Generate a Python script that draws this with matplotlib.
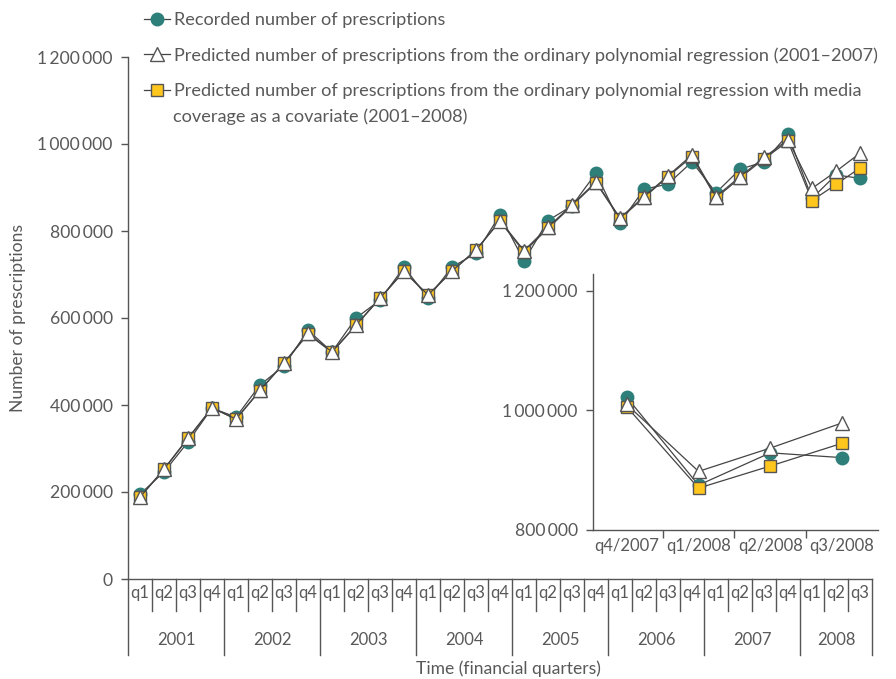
import matplotlib
matplotlib.use('Agg')
import matplotlib.pyplot as plt
from matplotlib.ticker import FuncFormatter
from matplotlib.transforms import blended_transform_factory
import numpy as np

# data (thousands of prescriptions), 2001 q1 .. 2008 q3
years = ['2001', '2002', '2003', '2004', '2005', '2006', '2007', '2008']
quarters = ['q1', 'q2', 'q3', 'q4'] * 7 + ['q1', 'q2', 'q3']
recorded = np.array([195, 246, 315, 393, 372, 446, 490, 572, 522, 600, 641, 717,
                     646, 717, 749, 837, 731, 824, 858, 933, 818, 896, 908, 959,
                     888, 942, 959, 1022, 875, 929, 921]) * 1000
ordinary = np.array([188, 253, 324, 393, 368, 434, 497, 565, 522, 584, 646, 708,
                     653, 708, 756, 824, 755, 809, 860, 913, 830, 879, 927, 975,
                     879, 925, 969, 1010, 898, 937, 979]) * 1000
media = np.array([188, 252, 323, 394, 367, 433, 496, 563, 521, 583, 645, 707,
                  652, 707, 757, 822, 752, 806, 858, 911, 828, 877, 925, 971,
                  876, 922, 966, 1006, 870, 907, 945]) * 1000
inset_labels = ['q4/2007', 'q1/2008', 'q2/2008', 'q3/2008']

labels = ['Recorded number of prescriptions',
          'Predicted number of prescriptions from the ordinary polynomial regression (2001\u20132007)',
          'Predicted number of prescriptions from the ordinary polynomial regression with media']

plt.rcParams['font.family'] = ['Lato', 'DejaVu Sans']
plt.rcParams['font.size'] = 12
txt = '#595959'
axc = '#555555'
linec = '#444444'
teal = '#2e7f7a'
yellow = '#ffc61e'
plt.rcParams['text.color'] = txt
plt.rcParams['xtick.color'] = axc
plt.rcParams['ytick.color'] = axc
plt.rcParams['xtick.labelcolor'] = txt
plt.rcParams['ytick.labelcolor'] = txt

fmt = FuncFormatter(lambda v, p: f'{v:,.0f}'.replace(',', '\u2009'))


def draw(a, xs, sl):
    l1, = a.plot(xs, recorded[sl], color=linec, lw=0.9, marker='o', ms=9,
                 mfc=teal, mec=teal, zorder=3)
    l3, = a.plot(xs, media[sl], color=linec, lw=0.9, marker='s', ms=8.5,
                 mfc=yellow, mec='#555555', mew=1, zorder=4)
    l2, = a.plot(xs, ordinary[sl], color=linec, lw=0.9, marker='^', ms=9.5,
                 mfc='white', mec='#555555', mew=1, zorder=5)
    return l1, l2, l3


def style(a):
    for s in ['top', 'right']:
        a.spines[s].set_visible(False)
    for s in ['left', 'bottom']:
        a.spines[s].set_color(axc)
        a.spines[s].set_linewidth(1)
    a.yaxis.set_major_formatter(fmt)
    a.tick_params(axis='y', direction='out', length=5, width=1, pad=6,
                  labelsize=12.6)


fig = plt.figure(figsize=(8.96, 6.79), dpi=100)
ax = fig.add_axes([128 / 896, 1 - 579 / 679, 744 / 896, 522 / 679])
x = np.arange(len(quarters))
handles = draw(ax, x, slice(None))
style(ax)
ax.set_xlim(-0.5, len(quarters) - 0.5)
ax.set_ylim(0, 1200000)
ax.set_yticks(np.arange(0, 1200001, 200000))
ax.set_xticks([])

# category axis: quarters and years below the axis
tr = blended_transform_factory(ax.transData, ax.transAxes)
for i, q in enumerate(quarters):
    ax.text(i, -0.026, q, transform=tr, ha='center', va='center')
for b in range(len(quarters) + 1):
    long = (b % 4 == 0) or b == len(quarters)
    ax.plot([b - 0.5, b - 0.5], [0, -0.146 if long else -0.062], transform=tr,
            color=axc, lw=1, clip_on=False)
for k, yr in enumerate(years):
    n = min(4, len(quarters) - 4 * k)
    ax.text(4 * k + (n - 1) / 2, -0.117, yr, transform=tr, ha='center', va='center')

fig.text(508 / 896, 1 - 669 / 679, 'Time (financial quarters)', ha='center', va='center',
         fontsize=12.6)
fig.text(18 / 896, 1 - 318 / 679, 'Number of prescriptions', rotation=90,
         ha='center', va='center', fontsize=12.6)

leg = fig.legend(handles, labels, loc='upper left', bbox_to_anchor=(144 / 896, 1 - 12 / 679),
                 frameon=False, borderpad=0, borderaxespad=0, handlelength=1.45,
                 handletextpad=0.2, labelspacing=1.06, fontsize=13.1)
fig.text(173 / 896, 1 - 117 / 679, 'coverage as a covariate (2001\u20132008)', va='center',
         fontsize=13.1)

# inset: last four quarters
ins = fig.add_axes([593 / 896, 1 - 530 / 679, 285 / 896, 256 / 679])
draw(ins, np.arange(4), slice(len(quarters) - 4, None))
style(ins)
ins.set_xlim(-0.47, 3.5)
ins.set_ylim(800000, 1228000)
ins.set_yticks([800000, 1000000, 1200000])
ins.set_xticks(np.arange(4), inset_labels)
ins.set_xticks([0.5, 1.5, 2.5], minor=True)
ins.tick_params(axis='x', which='major', length=0, pad=6)
ins.tick_params(axis='x', which='minor', direction='out', length=6, width=1)

fig.savefig('out.png', dpi=100)
